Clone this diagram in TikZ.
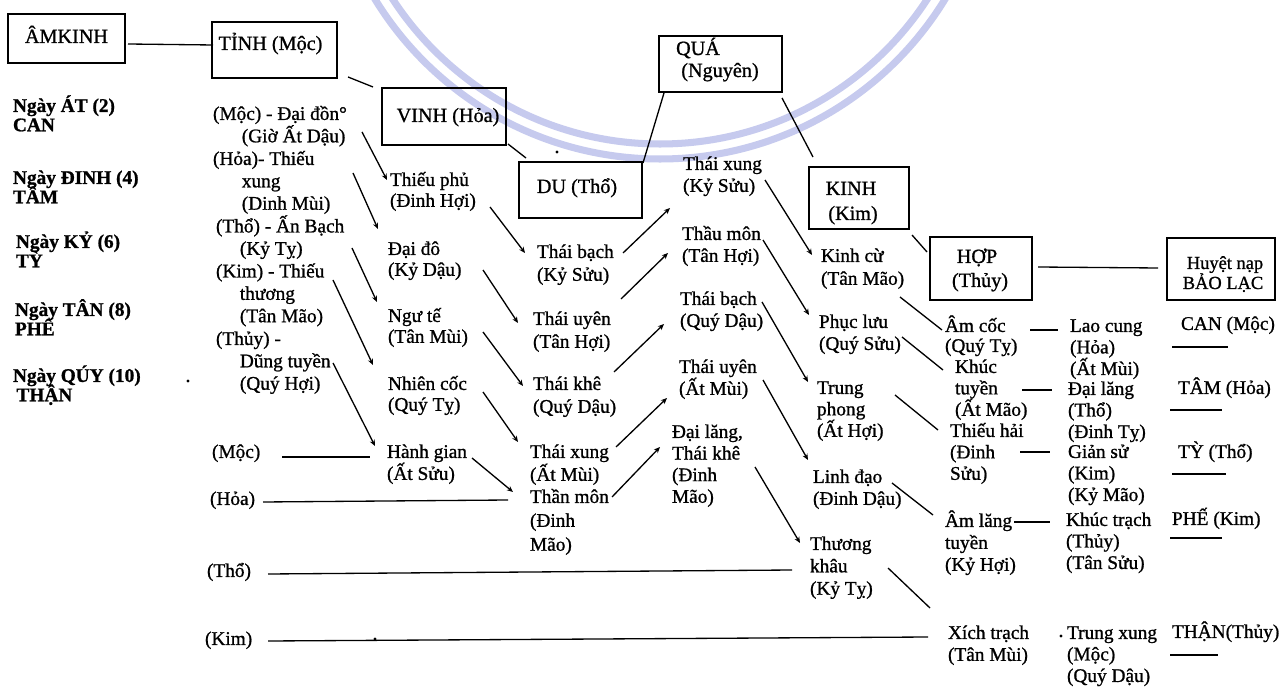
\documentclass[tikz,border=0pt]{standalone}
\usepackage{fontspec}
\setmainfont{Liberation Serif}[FakeBold=1]
\usetikzlibrary{arrows.meta,calc}
\lineskiplimit=-50pt
\lineskip=0pt
\definecolor{wmc}{RGB}{198,202,238}
\newcommand\fA{\fontsize{11pt}{12.25pt}\selectfont}
\newcommand\fsk[1]{\fontsize{11pt}{#1}\selectfont}
\newcommand\fL{\bfseries\fontsize{11pt}{11pt}\selectfont}
\newcommand\fBx{\fontsize{11.5pt}{13pt}\selectfont}
\newcommand\st{\rule{0pt}{11pt}}
\begin{document}
\begin{tikzpicture}[x=0.02cm,y=-0.02cm,
  every node/.style={inner sep=0pt, outer sep=0pt},
  t/.style={anchor=north west, align=left, yshift=0.288cm, font=\fA},
  bx/.style 2 args={draw, line width=0.8pt, minimum width=#1*0.02cm, minimum height=#2*0.02cm},
  bt/.style={anchor=base, font=\fBx},
  ln/.style={line width=0.75pt},
  ar/.style={ln, -{Stealth[length=3.5pt,width=3pt]}},
  wm/.style={draw=wmc, line width=4pt}]
\useasboundingbox (0,0) rectangle (1287,688);
\fill[white] (0,0) rectangle (1287,688);
% watermark arcs
\begin{scope}
\clip (0,0) rectangle (1287,688);
\draw[wm] (660,-175) circle (334);
\draw[wm] (660,-175) circle (319);
\end{scope}

% ---------- boxes ----------
\node[bx={117}{49}] (amkinh) at (66.5,38.5) {};
\node[bx={125}{56}] (tinh) at (274.5,50) {};
\node[bx={124}{57}] (vinh) at (444,116.5) {};
\node[bx={123}{56}] (du) at (580.5,190) {};
\node[bx={123}{56}] (qua) at (720.5,64) {};
\node[bx={100}{62}] (kinh) at (859,198) {};
\node[bx={102}{63}] (hop) at (981,268.5) {};
\node[bx={108}{62}] (huyet) at (1221,269) {};

\node[bt] (tamkinh) at (66.5,43) {ÂMKINH};
\node[bt] (ttinh) at (270.5,50) {TỈNH (Mộc)};
\node[bt] (tvinh) at (448,122) {VINH (Hỏa)};
\node[bt] (tdu) at (577,193) {DU (Thổ)};
\node[bt] (tqua1) at (698,55) {QUÁ};
\node[bt] (tqua2) at (720,77) {(Nguyên)};
\node[bt] (tkinh1) at (851,195) {KINH};
\node[bt] (tkinh2) at (853,220) {(Kim)};
\node[bt] (thop1) at (977,263) {HỢP};
\node[bt] (thop2) at (980,287) {(Thủy)};
\node[bt,font=\fontsize{10.5pt}{12pt}\selectfont] (thuyet1) at (1225,269) {Huyệt nạp};
\node[bt,font=\fontsize{10.5pt}{12pt}\selectfont] (thuyet2) at (1223,289) {BẢO LẠC};

% box connectors
\draw[ln] ($(amkinh.east)+(3,5.5)$) -- ($(tinh.west)+(1,-5)$);
\draw[ln] ($(tinh.south east)+(11,-1)$) -- ($(vinh.north west)+(-9,-1)$);
\draw[ln] ($(vinh.south east)+(2,-1)$) -- ($(du.north west)+(7,-4)$);
\draw[ln] ($(qua.south west)+(5,1)$) -- ($(du.north east)+(1,1)$);
\draw[ln] ($(qua.south east)+(0,6)$) -- ($(kinh.north west)+(4,-10)$);
\draw[ln] ($(kinh.south east)+(3,6)$) -- ($(hop.north west)+(-3,15)$);
\draw[ln] ($(hop.east)+(6,-1.5)$) -- ($(huyet.west)+(-9,-1)$);

% ---------- left column ----------
\node[t,font=\fL] (d2) at (13,107) {\st Ngày ÁT (2)\\CAN};
\node[t,font=\fL] (d4) at (13,179) {\st Ngày ĐINH (4)\\TÂM};
\node[t,font=\fL] (d6) at (16,243) {\st Ngày KỶ (6)\\TỲ};
\node[t,font=\fL] (d8) at (15,311) {\st Ngày TÂN (8)\\PHẾ};
\node[t,font=\fL] (d10) at (13,377) {\st Ngày QÚY (10)\\\hspace*{2pt}THẬN};

% ---------- column 2 ----------
\node[t,font=\fsk{12.75pt}] (cmoc) at (213,115) {\st (Mộc) - Đại đồn°\\\hspace*{16.4pt}(Giờ Ất Dậu)};
\node[t,font=\fsk{12.75pt}] (choa) at (213,160) {\st (Hỏa)- Thiếu\\\hspace*{16.4pt}xung\\\hspace*{16.4pt}(Dinh Mùi)};
\node[t,font=\fsk{12.75pt}] (ctho) at (216,227.5) {\st (Thổ) - Ấn Bạch\\\hspace*{13.6pt}(Kỷ Tỵ)};
\node[t,font=\fsk{12.75pt}] (ckim) at (216,272.5) {\st (Kim) - Thiếu\\\hspace*{13.6pt}thương\\\hspace*{13.6pt}(Tân Mão)};
\node[t,font=\fsk{12.75pt}] (cthuy) at (216,340) {\st (Thủy) -\\\hspace*{13.6pt}Dũng tuyền\\\hspace*{13.6pt}(Quý Hợi)};

% row labels
\node[t] (rmoc) at (212,453) {\st (Mộc)};
\node[t] (rhoa) at (210,500) {\st (Hỏa)};
\node[t] (rtho) at (207,572) {\st (Thổ)};
\node[t] (rkim) at (205,640) {\st (Kim)};

% ---------- column 3 ----------
\node[t,font=\fsk{11.9pt}] (thieuphu) at (390,181) {\st Thiếu phủ\\(Đinh Hợi)};
\node[t,font=\fsk{11.9pt}] (daido) at (388,250) {\st Đại đô\\(Kỷ Dậu)};
\node[t,font=\fsk{11.9pt}] (ngute) at (388,317) {\st Ngư tế\\(Tân Mùi)};
\node[t,font=\fsk{11.9pt}] (nhiencoc) at (388,385) {\st Nhiên cốc\\(Quý Tỵ)};
\node[t,font=\fsk{12.5pt}] (hanhgian) at (387,453) {\st Hành gian\\(Ất Sửu)};

% ---------- column 4 ----------
\node[t,font=\fsk{13pt}] (thaibach1) at (537,253) {\st Thái bạch\\(Kỷ Sửu)};
\node[t,font=\fsk{13pt}] (thaiuyen1) at (533,320) {\st Thái uyên\\(Tân Hợi)};
\node[t,font=\fsk{13pt}] (thaikhe1) at (533,385) {\st Thái khê\\(Quý Dậu)};
\node[t,font=\fsk{13pt}] (thaixung1) at (530,453) {\st Thái xung\\(Ất Mùi)};
\node[t,font=\fsk{13.6pt}] (thanmon1) at (530,498) {\st Thần môn\\(Đinh\\Mão)};

% ---------- column 5 ----------
\node[t,font=\fsk{12.5pt}] (thaixung2) at (683,165) {\st Thái xung\\(Kỷ Sửu)};
\node[t,font=\fsk{12.5pt}] (thaumon) at (682,235) {\st Thầu môn\\(Tân Hợi)};
\node[t,font=\fsk{12.5pt}] (thaibach2) at (680,300) {\st Thái bạch\\(Quý Dậu)};
\node[t,font=\fsk{12.5pt}] (thaiuyen2) at (679,368) {\st Thái uyên\\(Ất Mùi)};
\node[t,font=\fsk{12.3pt}] (dailang1) at (672,433) {\st Đại lăng,\\Thái khê\\(Đinh\\Mão)};

% ---------- column 6 ----------
\node[t,font=\fsk{13pt}] (kinhcu) at (821,257) {\st Kinh cừ\\(Tân Mão)};
\node[t,font=\fsk{12.5pt}] (phucluu) at (819,323) {\st Phục lưu\\(Quý Sửu)};
\node[t,font=\fsk{12.2pt}] (trungphong) at (817,389) {\st Trung\\phong\\(Ất Hợi)};
\node[t,font=\fsk{12.5pt}] (linhdao) at (813,478) {\st Linh đạo\\(Đinh Dậu)};
\node[t,font=\fsk{12.75pt}] (thuongkhau) at (810,545) {\st Thương\\khâu\\(Kỷ Tỵ)};

% ---------- column 7 ----------
\node[t,font=\fsk{11.4pt}] (amcoc) at (945,327) {\st Âm cốc\\(Quý Tỵ)};
\node[t,font=\fsk{12.2pt}] (khuctuyen) at (955,368) {\st Khúc\\tuyền\\(Ất Mão)};
\node[t,font=\fsk{12.2pt}] (thieuhai) at (950,432) {\st Thiếu hải\\(Đinh\\Sửu)};
\node[t,font=\fsk{12.5pt}] (amlang) at (945,522) {\st Âm lăng\\tuyền\\(Kỷ Hợi)};
\node[t,font=\fsk{12.5pt}] (xichtrach) at (948,634) {\st Xích trạch\\(Tân Mùi)};

% ---------- column 8 ----------
\node[t] (laocung) at (1070,327) {\st Lao cung\\(Hỏa)\\(Ất Mùi)};
\node[t] (dailang2) at (1068,390) {\st Đại lăng\\(Thổ)\\(Đinh Tỵ)};
\node[t] (giansu) at (1068,453) {\st Giản sử\\(Kim)\\(Kỷ Mão)};
\node[t] (khuctrach) at (1066,521) {\st Khúc trạch\\(Thủy)\\(Tân Sửu)};
\node[t] (trungxung) at (1067,634) {\st Trung xung\\(Mộc)\\(Quý Dậu)};

% ---------- column 9 ----------
\node[t] (can) at (1181,325) {\st CAN (Mộc)};
\node[t] (tam) at (1178,389) {\st TÂM (Hỏa)};
\node[t] (ty) at (1178,453) {\st TỲ (Thổ)};
\node[t] (phe) at (1172,520) {\st PHẾ (Kim)};
\node[t] (than) at (1172,633) {\st THẬN(Thủy)};

% ---------- arrows ----------
\foreach \n/\a/\b/\c/\d in {
  a1/362/132/387/180, a2/353/173/378/229, a3/352/248/377/302,
  a4/333/280/373/365, a5/333/363/375/446,
  b1/490/207/525/253, b2/483/270/518/323, b3/483/332/523/386,
  b4/483/392/518/442, b5/472/458/513/492,
  c1/623/253/670/208, c2/621/299/668/253, c3/614/372/664/324,
  c4/616/447/667/398, c5/612/497/660/447,
  d1/765/180/812/255, d2/763/240/809/315, d3/762/302/808/382,
  d4/763/380/808/460, d5/755/467/800/543}
{
  \coordinate (\n s) at (\a,\b);
  \coordinate (\n e) at (\c,\d);
  \draw[ar] (\n s) -- (\n e);
}
% plain lines
\foreach \n/\a/\b/\c/\d in {
  e1/900/297/942/330, e2/902/337/943/370, e3/895/395/938/430,
  e4/892/483/933/515, e5/888/568/930/608,
  r1/282/457/370/457, r2/263/502/508/500, r3/268/574/792/570,
  r4/268/641/928/637,
  f1/1030/330/1058/330, f2/1022/390/1052/390, f3/1020/452/1050/452,
  f4/1014/522/1050/522,
  g1/1172/347/1228/347, g2/1170/410/1222/410, g3/1172/474/1226/474,
  g4/1170/538/1222/538, g5/1170/655/1218/655}
{
  \coordinate (\n s) at (\a,\b);
  \coordinate (\n e) at (\c,\d);
  \draw[ln] (\n s) -- (\n e);
}
% stray print specks
\foreach \x/\y in {188/381, 557/152, 375/639, 1061/636}
  \fill (\x,\y) circle (1.6);
\end{tikzpicture}
\end{document}
